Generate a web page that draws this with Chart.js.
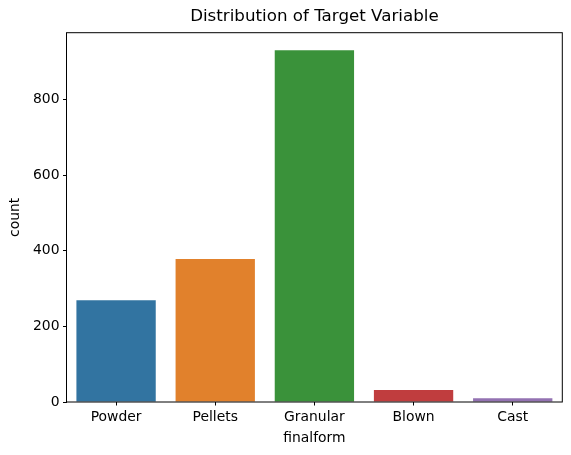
<!DOCTYPE html>
<html>
<head>
<meta charset="utf-8">
<script src="https://cdn.jsdelivr.net/npm/chart.js@4/dist/chart.umd.min.js"></script>
<style>
  html, body { margin: 0; padding: 0; background: #fff; }
  canvas { display: block; }
</style>
</head>
<body>
<canvas id="chart" width="571" height="455"></canvas>
<script>
// данные с картинки
const categories = ['Powder', 'Pellets', 'Granular', 'Blown', 'Cast'];
const counts = [269, 378, 930, 32, 10];
const barColors = ['#3274a1', '#e1812c', '#3a923a', '#c03d3e', '#9372b2'];
const yTicks = [0, 200, 400, 600, 800];

const chartTitle = 'Distribution of Target Variable';
const xTitle = 'finalform';
const yTitle = 'count';

const FONT = 'DejaVu Sans';

// рамка вокруг области графика и заголовок по центру области
const framePlugin = {
    id: 'frame',
    afterDraw(chart) {
        const { ctx, chartArea } = chart;
        ctx.save();
        ctx.strokeStyle = '#000';
        ctx.lineWidth = 1;
        ctx.strokeRect(chartArea.left, chartArea.top,
            chartArea.right - chartArea.left, chartArea.bottom - chartArea.top);
        ctx.fillStyle = '#000';
        ctx.font = '16.7px "' + FONT + '"';
        ctx.textAlign = 'center';
        ctx.textBaseline = 'middle';
        ctx.fillText(chartTitle, (chartArea.left + chartArea.right) / 2, 17);
        ctx.restore();
    }
};

const ctx = document.getElementById('chart').getContext('2d');
new Chart(ctx, {
    type: 'bar',
    data: {
        labels: categories,
        datasets: [{
            data: counts,
            backgroundColor: barColors,
            borderWidth: 0,
            categoryPercentage: 1,
            barPercentage: 0.8
        }]
    },
    options: {
        responsive: false,
        animation: false,
        devicePixelRatio: 1,
        layout: {
            padding: { top: 32.7, right: 8.7, left: 0, bottom: 0 }
        },
        plugins: {
            legend: { display: false },
            tooltip: { enabled: false },
            title: { display: false }
        },
        scales: {
            x: {
                afterFit(scale) { scale.height = 53; },
                grid: {
                    display: true,
                    drawOnChartArea: false,
                    drawTicks: true,
                    tickLength: 3.5,
                    color: '#000',
                    offset: false
                },
                border: { display: false },
                ticks: {
                    color: '#000',
                    padding: 3.5,
                    font: { family: FONT, size: 13.9 },
                    maxRotation: 0
                },
                title: {
                    display: true,
                    text: xTitle,
                    color: '#000',
                    font: { family: FONT, size: 13.9 },
                    padding: { top: 0, bottom: 8 }
                }
            },
            y: {
                min: 0,
                max: 976.5,
                afterFit(scale) { scale.width = 66.5; },
                afterBuildTicks(axis) {
                    axis.ticks = yTicks.map(v => ({ value: v }));
                },
                grid: {
                    display: true,
                    drawOnChartArea: false,
                    drawTicks: true,
                    tickLength: 3.5,
                    color: '#000'
                },
                border: { display: false },
                ticks: {
                    color: '#000',
                    padding: 3.5,
                    font: { family: FONT, size: 13.9 }
                },
                title: {
                    display: true,
                    text: yTitle,
                    color: '#000',
                    font: { family: FONT, size: 13.9 },
                    padding: { top: 7, bottom: 0 }
                }
            }
        }
    },
    plugins: [framePlugin]
});
</script>
</body>
</html>
